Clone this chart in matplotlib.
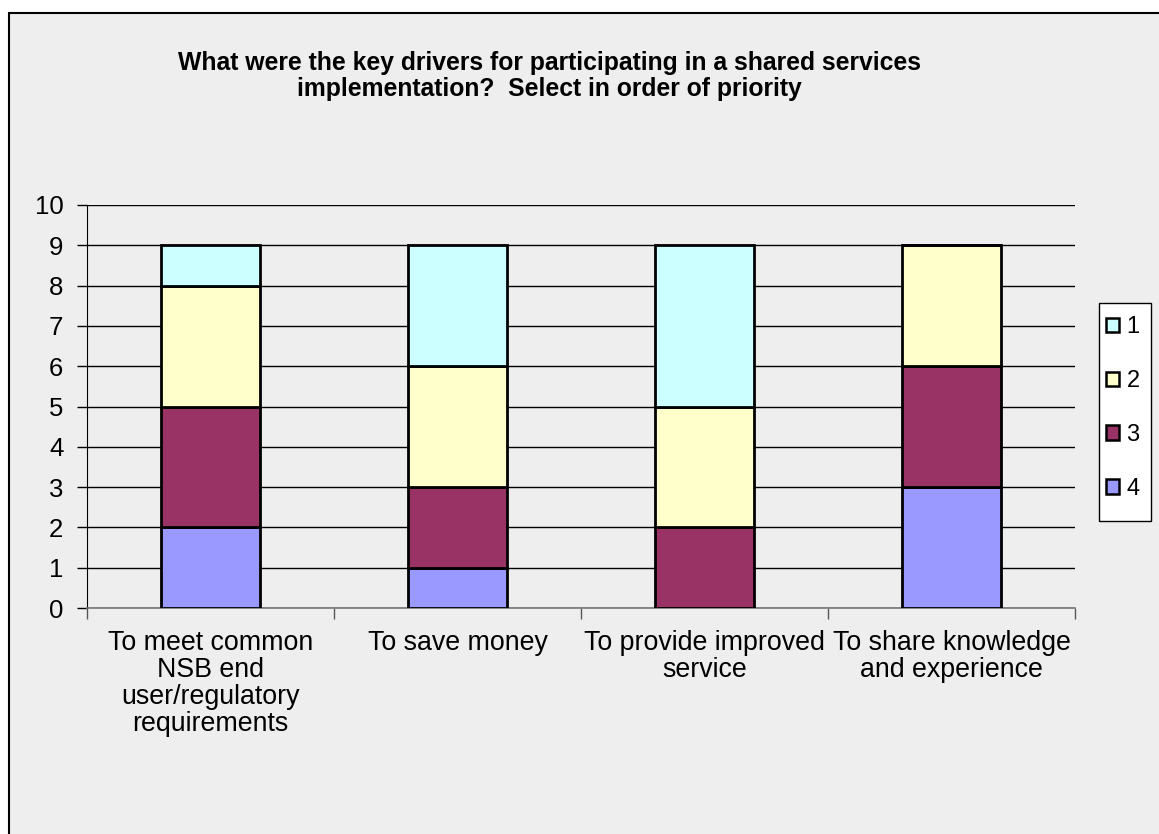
import matplotlib
matplotlib.use("Agg")
import matplotlib.pyplot as plt
from matplotlib.patches import Rectangle, Patch
import numpy as np

plt.rcParams['font.family'] = ['Liberation Sans', 'DejaVu Sans']

title = ("What were the key drivers for participating in a shared services\n"
         "implementation?  Select in order of priority")
categories = [
    "To meet common\nNSB end\nuser/regulatory\nrequirements",
    "To save money",
    "To provide improved\nservice",
    "To share knowledge\nand experience",
]
series_names = ["1", "2", "3", "4"]
rank_4 = [2, 1, 0, 3]
rank_3 = [3, 2, 2, 3]
rank_2 = [3, 3, 3, 3]
rank_1 = [1, 3, 4, 0]
colors = {"1": "#CCFFFF", "2": "#FFFFCC", "3": "#993366", "4": "#9999FF"}

W, H = 1159, 834
fig = plt.figure(figsize=(W / 100, H / 100), dpi=100)
fig.patch.set_facecolor("white")

# outer chart frame
frame = Rectangle((8.5 / W, -0.01), 1.02 - 8.5 / W, 1 - 12.5 / H + 0.01,
                  transform=fig.transFigure, facecolor="#EEEEEE",
                  edgecolor="black", linewidth=1.5, zorder=-10)
fig.patches.append(frame)

ax = fig.add_axes([87 / W, 1 - 608 / H, (1075 - 87) / W, (608 - 205) / H])
ax.set_facecolor("#EEEEEE")
ax.set_zorder(1)

x = np.arange(len(categories))
width = 0.4
bottom = np.zeros(len(categories))
stack = [("4", rank_4), ("3", rank_3), ("2", rank_2), ("1", rank_1)]
for name, vals in stack:
    vals = np.array(vals, dtype=float)
    ax.bar(x, vals, width, bottom=bottom, color=colors[name],
           edgecolor="black", linewidth=2, zorder=3)
    bottom += vals

ax.set_xlim(-0.5, len(categories) - 0.5)
ax.set_ylim(0, 10)
ax.set_yticks(range(0, 11))
ax.tick_params(axis="y", labelsize=18.5, length=7, width=1, direction="out", pad=10)
ax.yaxis.grid(True, color="black", linewidth=1, zorder=1)
ax.set_axisbelow(True)

ax.set_xticks(x)
ax.set_xticklabels(categories, fontsize=19.3, linespacing=1.05)
ax.tick_params(axis="x", length=0, pad=16)
ax.set_xticks(np.arange(-0.5, len(categories)), minor=True)
ax.tick_params(axis="x", which="minor", length=8, width=1, direction="out",
               color="#555555")

for s in ["top", "right"]:
    ax.spines[s].set_visible(False)
ax.spines["left"].set_color("black")
ax.spines["bottom"].set_color("#777777")
ax.spines["bottom"].set_linewidth(1.2)

fig.text(549 / W, 1 - 76 / H, title, ha="center", va="center", fontsize=17.8,
         fontweight="bold", linespacing=1.15)

# legend box
lx0, ly0, lx1, ly1 = 1098.5, 302.5, 1150.5, 520.5
fig.patches.append(Rectangle((lx0 / W, 1 - ly1 / H), (lx1 - lx0) / W,
                             (ly1 - ly0) / H, transform=fig.transFigure,
                             facecolor="white", edgecolor="black",
                             linewidth=1, zorder=2))
handles = [Patch(facecolor=colors[n], edgecolor="black", linewidth=1.8)
           for n in series_names]
leg = fig.legend(handles, series_names, loc="center",
                 bbox_to_anchor=(1123 / W, 1 - 408 / H), fontsize=17,
                 frameon=False, handlelength=0.55, handleheight=0.55,
                 handletextpad=0.3, labelspacing=1.35, borderpad=0,
                 borderaxespad=0)
leg.set_zorder(3)

fig.savefig("out.png", dpi=100, facecolor=fig.get_facecolor())
